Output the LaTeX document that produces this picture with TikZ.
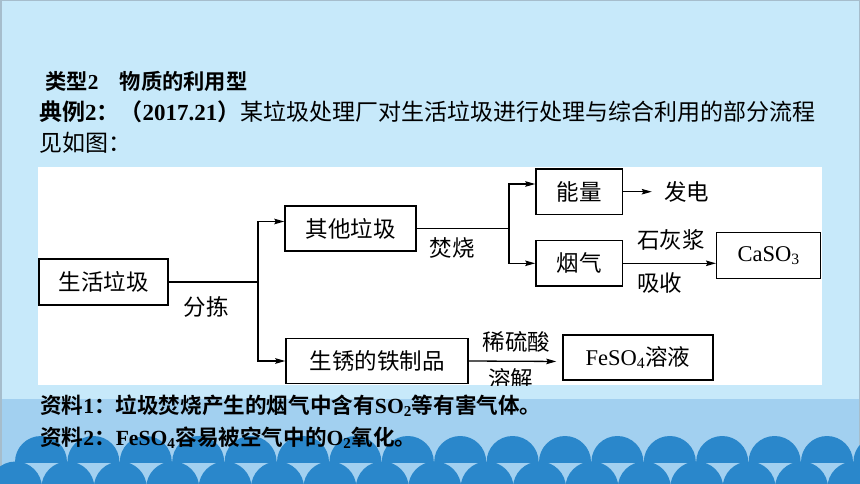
\documentclass[tikz,border=0pt]{standalone}
\usepackage{fontspec}
\setmainfont{Liberation Serif}
\newfontfamily\cjk{Noto Sans CJK SC}[BoldFont={Noto Sans CJK SC Bold}]
\usetikzlibrary{arrows.meta}
\definecolor{skyback}{HTML}{C7E9FA}
\definecolor{seaband}{HTML}{A2D0F0}
\definecolor{wave}{HTML}{2A87CB}
\definecolor{frameline}{HTML}{A6BDCC}
\newcommand{\zh}[1]{{\cjk #1}}

\begin{document}
\begin{tikzpicture}[x=1pt,y=-1pt,
  box/.style={draw,line width=1.4pt,inner sep=0pt,font=\fontsize{22.5}{22.5}\selectfont},
  lbl/.style={inner sep=1pt,font=\fontsize{22.5}{22.5}\selectfont},
  txt/.style={anchor=west,inner sep=0pt},
  line/.style={line width=1.3pt},
  arr/.style={line width=1.3pt,-{Stealth[length=10pt,width=5.5pt,inset=1.5pt]}}]
\useasboundingbox (0,0) rectangle (860,484);

% background
\fill[skyback] (0,0) rectangle (860,484);
\fill[seaband] (0,399) rectangle (860,484);
\fill[white] (38,167) rectangle (822,385);
\draw[frameline, line width=1.5pt] (0.75,484) -- (0.75,0.75) -- (859.25,0.75) -- (859.25,484);

% waves
\begin{scope}
\clip (0,0) rectangle (860,462);
\foreach \i in {0,...,16} \fill[wave] (41+52.4*\i,462) circle[radius=26pt];
\end{scope}
\foreach \i in {0,...,16} \fill[wave] (15.5+52.4*\i,488) circle[radius=26.5pt];

% texts
\node[txt, font=\fontsize{21.3}{21.3}\selectfont\bfseries] (head) at (45,81.5) {\zh{类型}2\zh{　物质的利用型}};
\node[txt, font=\fontsize{23}{23}\selectfont] (ex1) at (39,112) {\textbf{\zh{典例}2\zh{：（}2017.21\zh{）}}\zh{某垃圾处理厂对生活垃圾进行处理与综合利用的部分流程}};
\node[txt, font=\fontsize{23}{23}\selectfont] (ex2) at (39,143) {\zh{见如图：}};
\node[txt, font=\fontsize{21.6}{21.6}\selectfont\bfseries] (note1) at (40,406) {\zh{资料}1\zh{：垃圾焚烧产生的烟气中含有}SO\textsubscript{2}\zh{等有害气体。}};
\node[txt, font=\fontsize{21.6}{21.6}\selectfont\bfseries] (note2) at (40,437.5) {\zh{资料}2\zh{：}FeSO\textsubscript{4}\zh{容易被空气中的}O\textsubscript{2}\zh{氧化。}};

\begin{scope}
\clip (38,167) rectangle (822,385);
\node[box, minimum width=129pt, minimum height=46pt] (life) at (103.5,282) {\zh{生活垃圾}};
\node[box, minimum width=131pt, minimum height=45pt] (other) at (350.5,228.5) {\zh{其他垃圾}};
\node[box, minimum width=182pt, minimum height=45.5pt] (rusty) at (377,361) {\zh{生锈的铁制品}};
\node[box, minimum width=86.7pt, minimum height=45pt] (energy) at (579.3,191.7) {\zh{能量}};
\node[box, minimum width=86.7pt, minimum height=45.3pt] (smoke) at (579.3,263.3) {\zh{烟气}};
\node[box, minimum width=104pt, minimum height=45.6pt] (caso) at (768.7,255.5) {CaSO\textsubscript{3}};
\node[box, minimum width=150pt, minimum height=45pt] (feso) at (638,357.5) {FeSO\textsubscript{4}\zh{溶液}};

\node[lbl] (power) at (686.5,191.7) {\zh{发电}};
\node[lbl] (sort) at (206,307) {\zh{分拣}};
\node[lbl] (burn) at (452,248) {\zh{焚烧}};
\node[lbl, anchor=west] (lime) at (636,240) {\zh{石灰浆}};
\node[lbl, anchor=west] (absorb) at (636,283) {\zh{吸收}};
\node[lbl] (acid) at (516.5,341.5) {\zh{稀硫酸}};
\node[lbl] (dissolve) at (510.5,378.5) {\zh{溶解}};

\coordinate (s1) at (258,282);
\coordinate (s2) at (509,228.5);
\draw[line] (life.east) -- (s1);
\draw[arr] (s1) |- ([yshift=7pt]other.west);
\draw[arr] (s1) |- (rusty.west);
\draw[line] (other.east) -- (s2);
\draw[arr] (s2) |- ([yshift=7.7pt]energy.west);
\draw[arr] (s2) |- (smoke.west);
\draw[arr, shorten >=11pt] (energy) -- (power);
\draw[arr] (smoke.east) -- ([yshift=-7.8pt]caso.west);
\draw[arr, shorten >=6pt] (rusty.east) -- ([yshift=-4pt]feso.west);
\end{scope}
\end{tikzpicture}
\end{document}
